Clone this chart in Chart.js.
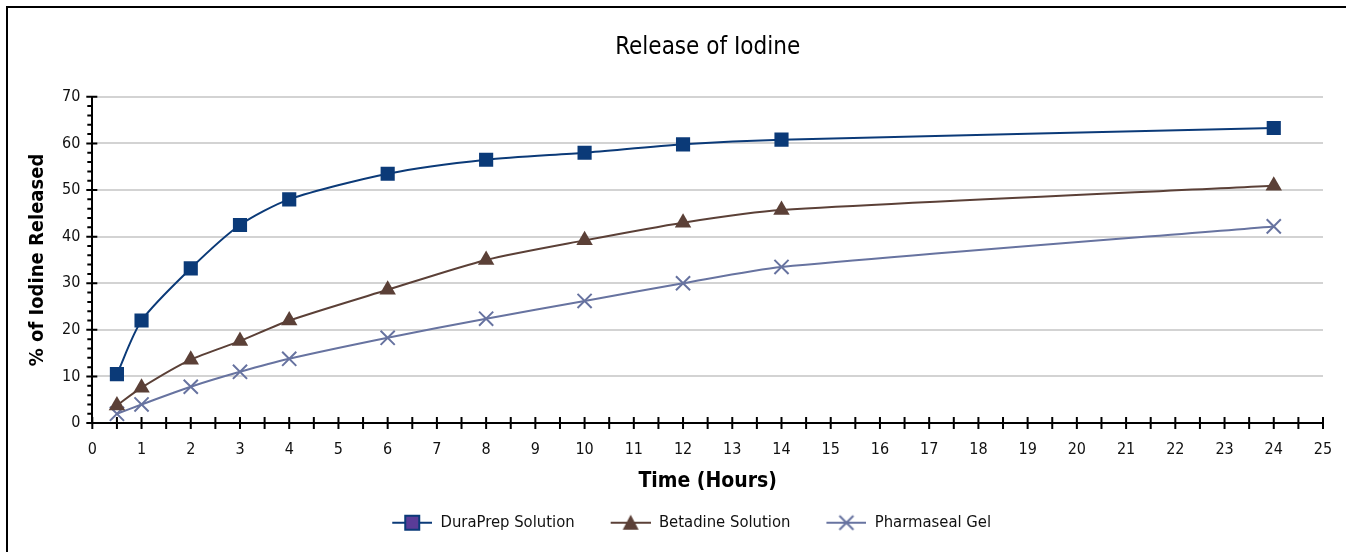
<!DOCTYPE html>
<html>
<head>
<meta charset="utf-8">
<script src="https://cdn.jsdelivr.net/npm/chart.js@4"></script>
<style>
  body { margin: 0; background: #fff; }
  canvas { display: block; }
</style>
</head>
<body>
<canvas id="releaseChart" width="1346" height="552"></canvas>
<script>
const hours = [0.5, 1, 2, 3, 4, 6, 8, 10, 12, 14, 24];
const duraPrep = [10.5, 22, 33.2, 42.5, 48, 53.5, 56.5, 58, 59.8, 60.8, 63.3];
const betadine = [3.8, 7.6, 13.6, 17.6, 22, 28.6, 35, 39.2, 43, 45.7, 50.9];
const pharmaseal = [2, 4, 7.8, 11, 13.8, 18.3, 22.4, 26.2, 30, 33.5, 42.2];
const seriesNames = ["DuraPrep Solution", "Betadine Solution", "Pharmaseal Gel"];

const FONT = '"DejaVu Sans Condensed", "Liberation Sans", sans-serif';

const navy = "#0b3a78";
const brown = "#5b4037";
const slate = "#6773a0";

function points(values) {
  return hours.map((h, i) => ({ x: h, y: values[i] }));
}

// legend pictures: blank gap on the left, then a line with the marker on it
const GAP = 20;
function legendIcon(color, draw) {
  const c = document.createElement("canvas");
  c.width = GAP + 40;
  c.height = 18;
  const g = c.getContext("2d");
  g.translate(GAP, 1);
  g.strokeStyle = color;
  g.lineWidth = 2;
  g.beginPath();
  g.moveTo(0, 8);
  g.lineTo(40, 8);
  g.stroke();
  draw(g);
  return c;
}

const iconSquare = legendIcon(navy, (g) => {
  g.fillStyle = "#5a3c98";
  g.fillRect(13, 1, 14, 14);
  g.strokeStyle = navy;
  g.lineWidth = 2;
  g.strokeRect(13, 1, 14, 14);
});
const iconTriangle = legendIcon(brown, (g) => {
  g.fillStyle = brown;
  g.beginPath();
  g.moveTo(20, 0);
  g.lineTo(28, 15);
  g.lineTo(12, 15);
  g.closePath();
  g.fill();
});
const iconCross = legendIcon(slate, (g) => {
  g.strokeStyle = slate;
  g.lineWidth = 2;
  g.beginPath();
  g.moveTo(13, 1);
  g.lineTo(27, 15);
  g.moveTo(27, 1);
  g.lineTo(13, 15);
  g.stroke();
});
const icons = [iconSquare, iconTriangle, iconCross];

// ticks that cross the axes, frame lines top and left
const axisTicks = {
  id: "axisTicks",
  afterLayout(chart) {
    // legend sits a little left of the plot centre
    chart.legend.left -= 26;
    chart.legend.right -= 26;
  },
  afterDraw(chart) {
    const ctx = chart.ctx;
    const xs = chart.scales.x;
    const ys = chart.scales.y;
    const y0 = ys.getPixelForValue(0);
    const x0 = xs.getPixelForValue(0);
    ctx.save();
    ctx.strokeStyle = "#000";
    ctx.lineWidth = 2;
    ctx.beginPath();
    for (let v = 0; v <= 25; v += 0.5) {
      const px = xs.getPixelForValue(v);
      ctx.moveTo(px, y0 - 6);
      ctx.lineTo(px, y0 + 6);
    }
    for (let v = 0; v <= 70; v += 2) {
      const py = ys.getPixelForValue(v);
      if (v % 10 === 0) {
        ctx.moveTo(x0 - 6, py);
        ctx.lineTo(x0 + 5, py);
      } else {
        ctx.moveTo(x0 - 5, py);
        ctx.lineTo(x0, py);
      }
    }
    ctx.stroke();
    ctx.beginPath();
    ctx.moveTo(7, chart.height);
    ctx.lineTo(7, 7);
    ctx.lineTo(chart.width, 7);
    ctx.stroke();
    ctx.restore();
  },
};

new Chart(document.getElementById("releaseChart"), {
  type: "line",
  data: {
    datasets: [
      {
        label: seriesNames[0],
        data: points(duraPrep),
        borderColor: navy,
        backgroundColor: navy,
        pointStyle: "rect",
        pointRadius: 10,
        pointBorderWidth: 0,
      },
      {
        label: seriesNames[1],
        data: points(betadine),
        borderColor: brown,
        backgroundColor: brown,
        pointStyle: "triangle",
        pointRadius: 9.5,
        pointBorderWidth: 0,
      },
      {
        label: seriesNames[2],
        data: points(pharmaseal),
        borderColor: slate,
        backgroundColor: slate,
        pointStyle: "crossRot",
        pointRadius: 10,
        pointBorderWidth: 2,
      },
    ],
  },
  options: {
    responsive: false,
    animation: false,
    borderWidth: 2,
    tension: 0.25,
    layout: { padding: { left: 22, right: 23, top: 0, bottom: 11 } },
    scales: {
      x: {
        type: "linear",
        min: 0,
        max: 25,
        afterFit(scale) {
          scale.paddingRight = 0;
        },
        ticks: {
          stepSize: 1,
          padding: 17,
          color: "#111",
          font: { family: FONT, size: 16 },
        },
        grid: { display: false, drawTicks: false },
        border: { color: "#000", width: 2 },
        title: {
          display: true,
          text: "Time (Hours)",
          color: "#000",
          font: { family: FONT, size: 21, weight: "bold" },
          padding: { top: -7, bottom: 4 },
        },
      },
      y: {
        min: 0,
        max: 70,
        ticks: {
          stepSize: 10,
          padding: 12,
          color: "#111",
          font: { family: FONT, size: 16 },
        },
        grid: { color: "#d3d3d3", lineWidth: 2, drawTicks: false },
        border: { color: "#000", width: 2 },
        title: {
          display: true,
          text: "% of Iodine Released",
          color: "#000",
          font: { family: FONT, size: 20, weight: "bold" },
          padding: { top: 4, bottom: 0 },
        },
      },
    },
    plugins: {
      title: {
        display: true,
        fullSize: false,
        text: "Release of Iodine",
        color: "#000",
        font: { family: FONT, size: 24, weight: "normal" },
        padding: { top: 33, bottom: 35 },
      },
      legend: {
        position: "bottom",
        fullSize: false,
        labels: {
          usePointStyle: true,
          pointStyleWidth: GAP + 40,
          padding: 16,
          color: "#111",
          font: { family: FONT, size: 16.5 },
          generateLabels(chart) {
            const items = Chart.defaults.plugins.legend.labels.generateLabels(chart);
            items.forEach((it, i) => {
              it.pointStyle = icons[i];
            });
            return items;
          },
        },
      },
      tooltip: { enabled: false },
    },
  },
  plugins: [axisTicks],
});
</script>
</body>
</html>
